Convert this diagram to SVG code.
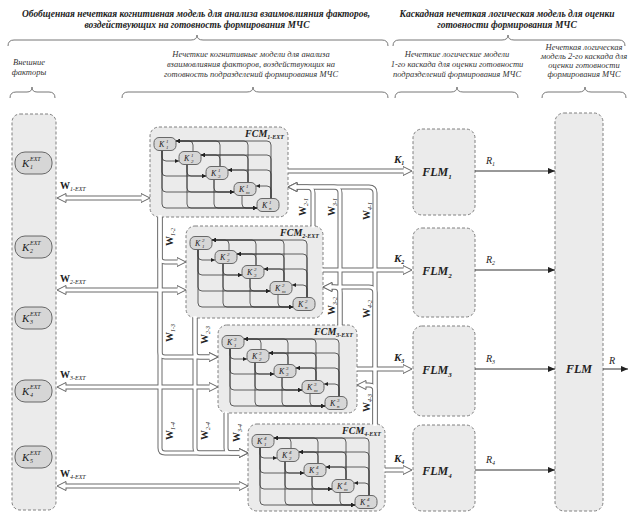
<svg xmlns="http://www.w3.org/2000/svg" width="629" height="514" viewBox="0 0 629 514">
<style>
.t1{font-family:"Liberation Serif",serif;font-style:italic;font-weight:bold;font-size:9.5px;fill:#222;text-anchor:middle}
.t2{font-family:"Liberation Serif",serif;font-style:italic;font-size:8.5px;fill:#333;text-anchor:middle}
.br{fill:none;stroke:#777;stroke-width:1}
.box{fill:#ebebeb;stroke:#808080;stroke-width:1;stroke-dasharray:3 2}
.nd{fill:#d6d6d6;stroke:#5a5a5a;stroke-width:0.9}
.ko{fill:none;stroke:#6a6a6a;stroke-width:5}
.ki{fill:none;stroke:#fff;stroke-width:3;stroke-linecap:square}
.mesh path{fill:none;stroke:#3a3a3a;stroke-width:0.8;marker-end:url(#sa)}
.ln{fill:none;stroke:#333;stroke-width:1}
.k{font-family:"Liberation Serif",serif;font-style:italic;fill:#222}
.kb{font-family:"Liberation Serif",serif;font-style:italic;font-weight:bold;fill:#222}
.w{font-family:"Liberation Serif",serif;font-weight:bold;font-size:10px;fill:#222}
.ws{font-style:italic;font-weight:normal;font-size:6px}
</style>
<defs>
<marker id="ha" viewBox="0 0 10 10" markerUnits="userSpaceOnUse" markerWidth="10" markerHeight="10" refX="0.5" refY="5" orient="auto-start-reverse">
<path d="M0.5,0.5 L9.5,5 L0.5,9.5 Z" fill="#fff" stroke="#666" stroke-width="1"/>
</marker>
<marker id="sa" viewBox="0 0 6 6" markerUnits="userSpaceOnUse" markerWidth="4" markerHeight="4" refX="6" refY="3" orient="auto">
<path d="M0,0 L6,3 L0,6 Z" fill="#222"/>
</marker>
<marker id="fa" viewBox="0 0 8 8" markerUnits="userSpaceOnUse" markerWidth="7" markerHeight="7" refX="8" refY="4" orient="auto">
<path d="M0,0.5 L8,4 L0,7.5 Z" fill="#222"/>
</marker>
<g id="mesh" class="mesh">
<path d="M12,23.5 V30 Q12,34 16,34 H29"/>
<path d="M12,23.5 V45 Q12,49 16,49 H56"/>
<path d="M12,23.5 V61 Q12,65 16,65 H84"/>
<path d="M12,23.5 V77 Q12,81 16,81 H107"/>
<path d="M37,37.5 V45 Q37,49 41,49 H56"/>
<path d="M37,37.5 V61 Q37,65 41,65 H84"/>
<path d="M37,37.5 V77 Q37,81 41,81 H107"/>
<path d="M64,52.5 V61 Q64,65 68,65 H84"/>
<path d="M64,52.5 V77 Q64,81 68,81 H107"/>
<path d="M92,68.5 V77 Q92,81 96,81 H107"/>
<path d="M43,24.5 V18 Q43,14 39,14 H26"/>
<path d="M70,39.5 V18 Q70,14 66,14 H26"/>
<path d="M70,39.5 V32 Q70,28 66,28 H51"/>
<path d="M98,55.5 V18 Q98,14 94,14 H26"/>
<path d="M98,55.5 V32 Q98,28 94,28 H51"/>
<path d="M98,55.5 V47 Q98,43 94,43 H78"/>
<path d="M121,71.5 V18 Q121,14 117,14 H26"/>
<path d="M121,71.5 V32 Q121,28 117,28 H51"/>
<path d="M121,71.5 V47 Q121,43 117,43 H78"/>
<path d="M121,71.5 V63 Q121,59 117,59 H106"/>
</g>
</defs>

<rect width="629" height="514" fill="#fff"/>

<g id="headers">
<text class="t1" x="196" y="17" textLength="348" lengthAdjust="spacingAndGlyphs">Обобщенная нечеткая когнитивная модель для анализа взаимовлияния факторов,</text>
<text class="t1" x="197" y="28" textLength="225" lengthAdjust="spacingAndGlyphs">воздействующих на готовность формирования МЧС</text>
<text class="t1" x="507" y="17" textLength="215" lengthAdjust="spacingAndGlyphs">Каскадная нечеткая логическая модель для оценки</text>
<text class="t1" x="507" y="28">готовности формирования МЧС</text>
<path class="br" d="M8,46 Q8,40 14,40 L191,40 Q197,40 197,35 Q197,40 203,40 L382,40 Q388,40 388,46"/>
<path class="br" d="M393,46 Q393,40 399,40 L502,40 Q508,40 508,35 Q508,40 514,40 L619,40 Q625,40 625,46"/>
<text class="t2" x="29" y="65">Внешние</text>
<text class="t2" x="29" y="75">факторы</text>
<text class="t2" x="251" y="57">Нечеткие когнитивные модели для анализа</text>
<text class="t2" x="251" y="67">взаимовлияния факторов, воздействующих на</text>
<text class="t2" x="251" y="77">готовность подразделений формирования МЧС</text>
<text class="t2" x="457" y="57">Нечеткие логические модели</text>
<text class="t2" x="457" y="67">1-го каскада для оценки готовности</text>
<text class="t2" x="457" y="77">подразделений формирования МЧС</text>
<text class="t2" x="584" y="50">Нечеткая логическая</text>
<text class="t2" x="584" y="59">модель 2-го каскада для</text>
<text class="t2" x="584" y="68">оценки готовности</text>
<text class="t2" x="584" y="77">формирования МЧС</text>
<path class="br" d="M10,98 Q10,92 16,92 L27,92 Q32,92 32,87 Q32,92 37,92 L49,92 Q55,92 55,98"/>
<path class="br" d="M122,98 Q122,92 128,92 L247,92 Q253,92 253,87 Q253,92 259,92 L382,92 Q388,92 388,98"/>
<path class="br" d="M395,98 Q395,92 401,92 L451,92 Q457,92 457,87 Q457,92 463,92 L512,92 Q518,92 518,98"/>
<path class="br" d="M542,98 Q542,92 548,92 L579,92 Q585,92 585,87 Q585,92 591,92 L620,92 Q626,92 626,98"/>
</g>

<g id="ext">
<rect class="box" x="12" y="114" width="44" height="396" rx="8"/>
<g id="kext1"><rect class="nd" x="15" y="152" width="37" height="22" rx="10"/><text class="k" x="22" y="167" font-size="11">K</text><text class="k" x="30" y="161" font-size="6">EXT</text><text class="k" x="30" y="169" font-size="6">1</text></g>
<g id="kext2"><rect class="nd" x="15" y="236" width="37" height="22" rx="10"/><text class="k" x="22" y="251" font-size="11">K</text><text class="k" x="30" y="245" font-size="6">EXT</text><text class="k" x="30" y="253" font-size="6">2</text></g>
<g id="kext3"><rect class="nd" x="15" y="307" width="37" height="22" rx="10"/><text class="k" x="22" y="322" font-size="11">K</text><text class="k" x="30" y="316" font-size="6">EXT</text><text class="k" x="30" y="324" font-size="6">3</text></g>
<g id="kext4"><rect class="nd" x="15" y="380" width="37" height="22" rx="10"/><text class="k" x="22" y="395" font-size="11">K</text><text class="k" x="30" y="389" font-size="6">EXT</text><text class="k" x="30" y="397" font-size="6">4</text></g>
<g id="kext5"><rect class="nd" x="15" y="446" width="37" height="22" rx="10"/><text class="k" x="22" y="461" font-size="11">K</text><text class="k" x="30" y="455" font-size="6">EXT</text><text class="k" x="30" y="463" font-size="6">5</text></g>
</g>

<g id="fcm1" transform="translate(150,127)">
<rect class="box" width="138" height="90" rx="9"/>
<use href="#mesh"/>
<rect class="nd" x="4" y="10.5" width="22" height="13" rx="5"/><text class="k" x="9" y="20" font-size="8">K</text><text class="k" x="16" y="16" font-size="5">1</text><text class="k" x="16" y="21.5" font-size="5">1</text>
<rect class="nd" x="29" y="24.5" width="22" height="13" rx="5"/><text class="k" x="34" y="34" font-size="8">K</text><text class="k" x="41" y="30" font-size="5">1</text><text class="k" x="41" y="35.5" font-size="5">2</text>
<rect class="nd" x="56" y="39.5" width="22" height="13" rx="5"/><text class="k" x="61" y="49" font-size="8">K</text><text class="k" x="68" y="45" font-size="5">1</text><text class="k" x="68" y="50.5" font-size="5">3</text>
<rect class="nd" x="84" y="55.5" width="22" height="13" rx="5"/><text class="k" x="89" y="65" font-size="8">K</text><text class="k" x="96" y="61" font-size="5">1</text><text class="k" x="96" y="66.5" font-size="5">m</text>
<rect class="nd" x="107" y="71.5" width="22" height="13" rx="5"/><text class="k" x="112" y="81" font-size="8">K</text><text class="k" x="119" y="77" font-size="5">1</text><text class="k" x="119" y="82.5" font-size="5">n</text>
<text class="kb" x="134" y="10" font-size="10" text-anchor="end">FCM<tspan font-size="6" dy="2">1-EXT</tspan></text>
</g>

<g id="fcm2" transform="translate(186,226)">
<rect class="box" width="137" height="92" rx="9"/>
<use href="#mesh"/>
<rect class="nd" x="4" y="10.5" width="22" height="13" rx="5"/><text class="k" x="9" y="20" font-size="8">K</text><text class="k" x="16" y="16" font-size="5">2</text><text class="k" x="16" y="21.5" font-size="5">1</text>
<rect class="nd" x="29" y="24.5" width="22" height="13" rx="5"/><text class="k" x="34" y="34" font-size="8">K</text><text class="k" x="41" y="30" font-size="5">2</text><text class="k" x="41" y="35.5" font-size="5">2</text>
<rect class="nd" x="56" y="39.5" width="22" height="13" rx="5"/><text class="k" x="61" y="49" font-size="8">K</text><text class="k" x="68" y="45" font-size="5">2</text><text class="k" x="68" y="50.5" font-size="5">3</text>
<rect class="nd" x="84" y="55.5" width="22" height="13" rx="5"/><text class="k" x="89" y="65" font-size="8">K</text><text class="k" x="96" y="61" font-size="5">2</text><text class="k" x="96" y="66.5" font-size="5">m</text>
<rect class="nd" x="107" y="71.5" width="22" height="13" rx="5"/><text class="k" x="112" y="81" font-size="8">K</text><text class="k" x="119" y="77" font-size="5">2</text><text class="k" x="119" y="82.5" font-size="5">n</text>
<text class="kb" x="133" y="10" font-size="10" text-anchor="end">FCM<tspan font-size="6" dy="2">2-EXT</tspan></text>
</g>

<g id="fcm3" transform="translate(218,325)">
<rect class="box" width="139" height="88" rx="9"/>
<use href="#mesh"/>
<rect class="nd" x="4" y="10.5" width="22" height="13" rx="5"/><text class="k" x="9" y="20" font-size="8">K</text><text class="k" x="16" y="16" font-size="5">3</text><text class="k" x="16" y="21.5" font-size="5">1</text>
<rect class="nd" x="29" y="24.5" width="22" height="13" rx="5"/><text class="k" x="34" y="34" font-size="8">K</text><text class="k" x="41" y="30" font-size="5">3</text><text class="k" x="41" y="35.5" font-size="5">2</text>
<rect class="nd" x="56" y="39.5" width="22" height="13" rx="5"/><text class="k" x="61" y="49" font-size="8">K</text><text class="k" x="68" y="45" font-size="5">3</text><text class="k" x="68" y="50.5" font-size="5">3</text>
<rect class="nd" x="84" y="55.5" width="22" height="13" rx="5"/><text class="k" x="89" y="65" font-size="8">K</text><text class="k" x="96" y="61" font-size="5">3</text><text class="k" x="96" y="66.5" font-size="5">m</text>
<rect class="nd" x="107" y="71.5" width="22" height="13" rx="5"/><text class="k" x="112" y="81" font-size="8">K</text><text class="k" x="119" y="77" font-size="5">3</text><text class="k" x="119" y="82.5" font-size="5">n</text>
<text class="kb" x="135" y="10" font-size="10" text-anchor="end">FCM<tspan font-size="6" dy="2">3-EXT</tspan></text>
</g>

<g id="fcm4" transform="translate(248,424)">
<rect class="box" width="137" height="87" rx="9"/>
<use href="#mesh"/>
<rect class="nd" x="4" y="10.5" width="22" height="13" rx="5"/><text class="k" x="9" y="20" font-size="8">K</text><text class="k" x="16" y="16" font-size="5">4</text><text class="k" x="16" y="21.5" font-size="5">1</text>
<rect class="nd" x="29" y="24.5" width="22" height="13" rx="5"/><text class="k" x="34" y="34" font-size="8">K</text><text class="k" x="41" y="30" font-size="5">4</text><text class="k" x="41" y="35.5" font-size="5">2</text>
<rect class="nd" x="56" y="39.5" width="22" height="13" rx="5"/><text class="k" x="61" y="49" font-size="8">K</text><text class="k" x="68" y="45" font-size="5">4</text><text class="k" x="68" y="50.5" font-size="5">3</text>
<rect class="nd" x="84" y="55.5" width="22" height="13" rx="5"/><text class="k" x="89" y="65" font-size="8">K</text><text class="k" x="96" y="61" font-size="5">4</text><text class="k" x="96" y="66.5" font-size="5">m</text>
<rect class="nd" x="107" y="71.5" width="22" height="13" rx="5"/><text class="k" x="112" y="81" font-size="8">K</text><text class="k" x="119" y="77" font-size="5">4</text><text class="k" x="119" y="82.5" font-size="5">n</text>
<text class="kb" x="133" y="10" font-size="10" text-anchor="end">FCM<tspan font-size="6" dy="2">4-EXT</tspan></text>
</g>

<g id="flm1"><rect class="box" x="413" y="129" width="62" height="86" rx="9"/><text class="kb" x="437" y="176" font-size="12" text-anchor="middle">FLM<tspan font-size="7" dy="3">1</tspan></text></g>
<g id="flm2"><rect class="box" x="413" y="228" width="62" height="89" rx="9"/><text class="kb" x="437" y="275" font-size="12" text-anchor="middle">FLM<tspan font-size="7" dy="3">2</tspan></text></g>
<g id="flm3"><rect class="box" x="413" y="326" width="62" height="90" rx="9"/><text class="kb" x="437" y="374" font-size="12" text-anchor="middle">FLM<tspan font-size="7" dy="3">3</tspan></text></g>
<g id="flm4"><rect class="box" x="413" y="425" width="62" height="86" rx="9"/><text class="kb" x="437" y="475" font-size="12" text-anchor="middle">FLM<tspan font-size="7" dy="3">4</tspan></text></g>
<g id="flm"><rect class="box" x="555" y="113" width="48" height="398" rx="9"/><text class="kb" x="579" y="373" font-size="12" text-anchor="middle">FLM</text></g>

<g id="connectors">
<g class="ko">
<path d="M66,198 H141" marker-start="url(#ha)" marker-end="url(#ha)"/>
<path d="M66,290 H177" marker-start="url(#ha)" marker-end="url(#ha)"/>
<path d="M66,387 H209" marker-start="url(#ha)" marker-end="url(#ha)"/>
<path d="M66,486 H239" marker-start="url(#ha)" marker-end="url(#ha)"/>
<path d="M160,217 V257 Q160,262 165,262 H177" marker-end="url(#ha)"/>
<path d="M160,217 V352 Q160,357 165,357 H209" marker-end="url(#ha)"/>
<path d="M160,217 V448 Q160,453 165,453 H239" marker-end="url(#ha)"/>
<path d="M195,318 V352 Q195,357 200,357 H209" marker-end="url(#ha)"/>
<path d="M195,318 V448 Q195,453 200,453 H239" marker-end="url(#ha)"/>
<path d="M226,413 V448 Q226,453 231,453 H239" marker-end="url(#ha)"/>
<path d="M288,171 H403" marker-end="url(#ha)"/>
<path d="M323,270 H403" marker-end="url(#ha)"/>
<path d="M357,369 H403" marker-end="url(#ha)"/>
<path d="M385,470 H403" marker-end="url(#ha)"/>
<path d="M313,226 V193 Q313,187 307,187 H297" marker-end="url(#ha)"/>
<path d="M340,325 V193 Q340,187 334,187 H297" marker-end="url(#ha)"/>
<path d="M375,424 V193 Q375,187 369,187 H297" marker-end="url(#ha)"/>
<path d="M340,325 V293 Q340,287 334,287 H332" marker-end="url(#ha)"/>
<path d="M375,424 V293 Q375,287 369,287 H332" marker-end="url(#ha)"/>
<path d="M375,424 V391 Q375,385 369,385 H366" marker-end="url(#ha)"/>
</g>
<g class="ki">
<path d="M66,198 H141"/>
<path d="M66,290 H177"/>
<path d="M66,387 H209"/>
<path d="M66,486 H239"/>
<path d="M160,217 V257 Q160,262 165,262 H177"/>
<path d="M160,217 V352 Q160,357 165,357 H209"/>
<path d="M160,217 V448 Q160,453 165,453 H239"/>
<path d="M195,318 V352 Q195,357 200,357 H209"/>
<path d="M195,318 V448 Q195,453 200,453 H239"/>
<path d="M226,413 V448 Q226,453 231,453 H239"/>
<path d="M288,171 H403"/>
<path d="M323,270 H403"/>
<path d="M357,369 H403"/>
<path d="M385,470 H403"/>
<path d="M313,226 V193 Q313,187 307,187 H297"/>
<path d="M340,325 V193 Q340,187 334,187 H297"/>
<path d="M375,424 V193 Q375,187 369,187 H297"/>
<path d="M340,325 V293 Q340,287 334,287 H332"/>
<path d="M375,424 V293 Q375,287 369,287 H332"/>
<path d="M375,424 V391 Q375,385 369,385 H366"/>
</g>
<g class="ln">
<path d="M475,171 H555" marker-end="url(#fa)"/>
<path d="M475,270 H555" marker-end="url(#fa)"/>
<path d="M475,369 H555" marker-end="url(#fa)"/>
<path d="M475,470 H555" marker-end="url(#fa)"/>
<path d="M603,369 H628" marker-end="url(#fa)"/>
</g>
</g>

<g id="labels">
<text class="w" x="60" y="189">W<tspan class="ws" dy="2">1-EXT</tspan></text>
<text class="w" x="60" y="282">W<tspan class="ws" dy="2">2-EXT</tspan></text>
<text class="w" x="60" y="378">W<tspan class="ws" dy="2">3-EXT</tspan></text>
<text class="w" x="60" y="477">W<tspan class="ws" dy="2">4-EXT</tspan></text>
<text class="w" transform="translate(173,246) rotate(-90)">W<tspan class="ws" dy="2">1-2</tspan></text>
<text class="w" transform="translate(173,342) rotate(-90)">W<tspan class="ws" dy="2">1-3</tspan></text>
<text class="w" transform="translate(173,440) rotate(-90)">W<tspan class="ws" dy="2">1-4</tspan></text>
<text class="w" transform="translate(208,344) rotate(-90)">W<tspan class="ws" dy="2">2-3</tspan></text>
<text class="w" transform="translate(208,440) rotate(-90)">W<tspan class="ws" dy="2">2-4</tspan></text>
<text class="w" transform="translate(240,442) rotate(-90)">W<tspan class="ws" dy="2">3-4</tspan></text>
<text class="w" transform="translate(306,216) rotate(-90)">W<tspan class="ws" dy="2">2-1</tspan></text>
<text class="w" transform="translate(335,216) rotate(-90)">W<tspan class="ws" dy="2">3-1</tspan></text>
<text class="w" transform="translate(370,220) rotate(-90)">W<tspan class="ws" dy="2">4-1</tspan></text>
<text class="w" transform="translate(335,315) rotate(-90)">W<tspan class="ws" dy="2">3-2</tspan></text>
<text class="w" transform="translate(370,318) rotate(-90)">W<tspan class="ws" dy="2">4-2</tspan></text>
<text class="w" transform="translate(370,412) rotate(-90)">W<tspan class="ws" dy="2">4-3</tspan></text>
<text class="kb" x="394" y="163" font-size="11">K<tspan font-size="6" dy="2">1</tspan></text>
<text class="kb" x="394" y="262" font-size="11">K<tspan font-size="6" dy="2">2</tspan></text>
<text class="kb" x="394" y="361" font-size="11">K<tspan font-size="6" dy="2">3</tspan></text>
<text class="kb" x="394" y="462" font-size="11">K<tspan font-size="6" dy="2">4</tspan></text>
<text class="k" x="486" y="164" font-size="10">R<tspan font-size="6" dy="2">1</tspan></text>
<text class="k" x="486" y="263" font-size="10">R<tspan font-size="6" dy="2">2</tspan></text>
<text class="k" x="486" y="362" font-size="10">R<tspan font-size="6" dy="2">3</tspan></text>
<text class="k" x="486" y="463" font-size="10">R<tspan font-size="6" dy="2">4</tspan></text>
<text class="k" x="609" y="364" font-size="10">R</text>
</g>
</svg>
